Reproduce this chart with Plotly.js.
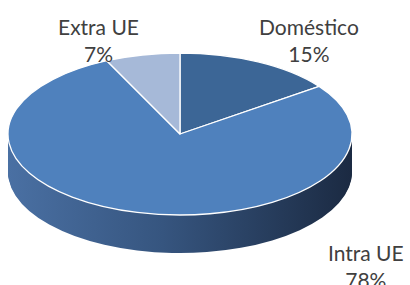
<!DOCTYPE html>
<html><head><meta charset="utf-8">
<script src="https://cdn.plot.ly/plotly-3.0.1.min.js"></script>
<style>html,body{margin:0;padding:0;background:#fff;overflow:hidden}#chart{width:410px;height:285px}</style>
</head><body><div id="chart"></div>
<script>
const categories = ['Doméstico', 'Intra UE', 'Extra UE'];
const values = [15, 78, 7];
const topColors = ['#3c6696', '#4f81bd', '#a6b9d8'];
const sideColors = ['#2c4a73', '#34507a', '#5a6f90'];

// geometry of the tilted disc (layout only)
const CX = 180, CY = 134, RX = 172, RY = 81, DEPTH = 38;

const traces = [];
for (let i = DEPTH; i >= 1; i--) {
  traces.push({type:'pie', labels:categories, values:values, sort:false, direction:'clockwise',
    rotation:0, textinfo:'none', hoverinfo:'skip',
    marker:{colors:sideColors, line:{width:0}}, domain:{x:[0,1], y:[0,1]}, showlegend:false});
}
traces.push({type:'pie', labels:categories, values:values, sort:false, direction:'clockwise',
  rotation:0, textinfo:'none', hoverinfo:'skip',
  marker:{colors:topColors, line:{color:'#ffffff', width:1.3}}, domain:{x:[0,1], y:[0,1]}, showlegend:false});

const total = values.reduce((a,b)=>a+b,0);
const labelPos = [[309, 40], [366, 266], [98, 40]];
const annotations = categories.map((c,i)=>({
  text: c + '<br>' + Math.round(values[i]/total*100) + '%',
  x: labelPos[i][0]/410, y: 1-labelPos[i][1]/285, xref:'paper', yref:'paper', showarrow:false,
  xanchor:'center', yanchor:'middle', font:{family:'Lato, "Open Sans", sans-serif', size:21, color:'#404040'}
}));

const layout = {width:410, height:285, margin:{l:0,r:0,t:0,b:0}, paper_bgcolor:'#fff', plot_bgcolor:'#fff',
  showlegend:false, annotations:annotations};

const gd = document.getElementById('chart');
Plotly.newPlot(gd, traces, layout, {staticPlot:true}).then(()=>{
  const svg = gd.querySelector('svg.main-svg');
  const NS = 'http://www.w3.org/2000/svg';
  let defs = svg.querySelector('defs');
  const grad = document.createElementNS(NS,'linearGradient');
  grad.setAttribute('id','sideGrad');
  grad.setAttribute('x1','0'); grad.setAttribute('y1','0'); grad.setAttribute('x2','1'); grad.setAttribute('y2','0');
  [['0','#4a70a3'],['0.45','#36557f'],['1','#1b2a42']].forEach(([o,c])=>{
    const s=document.createElementNS(NS,'stop'); s.setAttribute('offset',o); s.setAttribute('stop-color',c); grad.appendChild(s);
  });
  defs.appendChild(grad);
  const groups = gd.querySelectorAll('.pielayer .trace');
  groups.forEach((g, idx)=>{
    const cd0 = gd.calcdata[idx][0];
    const r = cd0.r, cx = cd0.cx, cy = cd0.cy;
    const off = idx < DEPTH ? (DEPTH - idx) : 0;
    g.setAttribute('transform', `translate(${CX},${CY+off}) scale(${RX/r},${RY/r}) translate(${-cx},${-cy})`);
    g.querySelectorAll('path.surface').forEach(p=>{
      p.style.vectorEffect = 'non-scaling-stroke';
      if (idx < DEPTH) { p.style.fill = 'url(#sideGrad)'; p.style.stroke='none'; }
    });
  });
});
</script></body></html>
